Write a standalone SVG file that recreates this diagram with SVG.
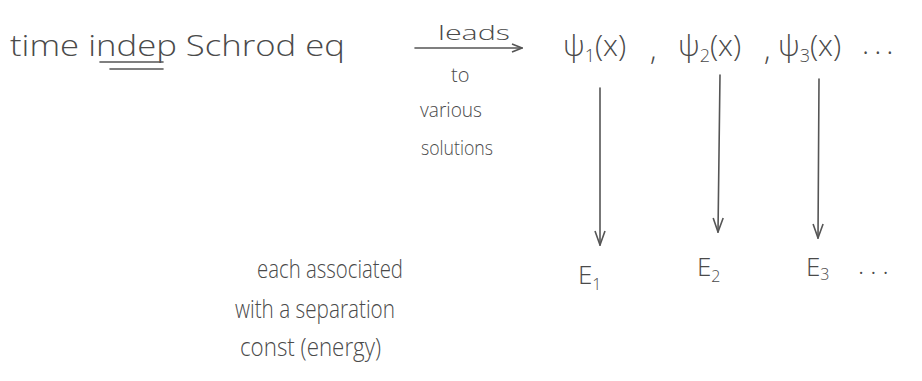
<svg xmlns="http://www.w3.org/2000/svg" width="922" height="381" viewBox="0 0 922 381">
<style>
text{font-family:"Open Sans","Liberation Sans",sans-serif;fill:#4a4a4a;font-weight:300}
.big{font-size:30px}
.mid{font-size:26px}
.sm{font-size:20px}
.ln{stroke:#555;stroke-width:1.6;fill:none;stroke-linecap:round}
</style>
<defs>
<marker id="ah" viewBox="0 0 16 12" refX="15" refY="6" markerWidth="16" markerHeight="12" markerUnits="userSpaceOnUse" orient="auto">
<path d="M1,1 L15,6 L1,11" fill="none" stroke="#555" stroke-width="1.6"/>
</marker>
<marker id="ahr" viewBox="0 0 12 10" refX="11" refY="5" markerWidth="12" markerHeight="10" markerUnits="userSpaceOnUse" orient="auto">
<path d="M1,1 L11,5 L1,9" fill="none" stroke="#555" stroke-width="1.6"/>
</marker>
</defs>
<g id="schrod">
<text class="big" x="10" y="56" textLength="335" lengthAdjust="spacingAndGlyphs">time indep Schrod eq</text>
<line class="ln" x1="100" y1="62" x2="163" y2="62"/>
<line class="ln" x1="110" y1="69" x2="163" y2="69"/>
</g>
<g id="leads-label">
<text class="sm" x="438" y="40" textLength="72" lengthAdjust="spacingAndGlyphs">leads</text>
<text class="sm" x="451" y="82">to</text>
<text class="sm" x="420" y="117" textLength="62" lengthAdjust="spacingAndGlyphs">various</text>
<text class="sm" x="421" y="155" textLength="72" lengthAdjust="spacingAndGlyphs">solutions</text>
</g>
<g id="psi1"><text class="big" x="563" y="56">ψ<tspan font-size="18" dy="6">1</tspan><tspan dy="-6">(x)</tspan></text><text class="big" x="650" y="60">,</text></g>
<g id="psi2"><text class="big" x="678" y="56">ψ<tspan font-size="18" dy="6">2</tspan><tspan dy="-6">(x)</tspan></text><text class="big" x="764" y="60">,</text></g>
<g id="psi3"><text class="big" x="778" y="56">ψ<tspan font-size="18" dy="6">3</tspan><tspan dy="-6">(x)</tspan></text><text class="big" x="862" y="54" letter-spacing="5">...</text></g>
<g id="e1"><text class="mid" x="578" y="284">E<tspan font-size="16" dy="6">1</tspan></text></g>
<g id="e2"><text class="mid" x="697" y="276">E<tspan font-size="16" dy="6">2</tspan></text></g>
<g id="e3"><text class="mid" x="806" y="276">E<tspan font-size="16" dy="4">3</tspan></text><text class="mid" x="858" y="274" letter-spacing="6">...</text></g>
<g id="note">
<text class="mid" x="257" y="278" textLength="146" lengthAdjust="spacingAndGlyphs">each associated</text>
<text class="mid" x="235" y="318" textLength="160" lengthAdjust="spacingAndGlyphs">with a separation</text>
<text class="mid" x="240" y="356" textLength="141" lengthAdjust="spacingAndGlyphs">const (energy)</text>
</g>
<g id="connectors">
<line class="ln" x1="415" y1="48" x2="522" y2="48" marker-end="url(#ahr)"/>
<line class="ln" x1="600" y1="88" x2="600" y2="245" marker-end="url(#ah)"/>
<line class="ln" x1="720" y1="75" x2="718" y2="232" marker-end="url(#ah)"/>
<line class="ln" x1="819" y1="79" x2="818" y2="238" marker-end="url(#ah)"/>
</g>
</svg>
